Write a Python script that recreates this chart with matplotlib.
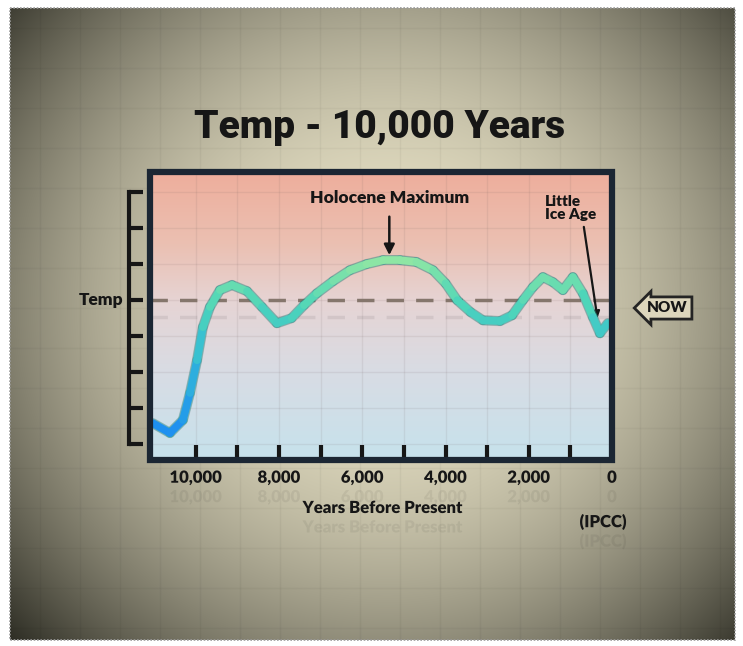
"""Temperature over the last 10,000 years, poster style."""
import numpy as np
import matplotlib
matplotlib.use("Agg")
import matplotlib.pyplot as plt
import matplotlib.patheffects as pe
from matplotlib.collections import LineCollection
from matplotlib.colors import LinearSegmentedColormap
from matplotlib.patches import Rectangle

W, H = 743, 646

# years before present vs. temperature relative to today (dashed line = 0)
years = [11030, 10620, 10310, 10140, 9970, 9830, 9660, 9420, 9130, 8770, 8410,
         8050, 7700, 7400, 7090, 6700, 6300, 5900, 5500, 5090, 4700, 4300,
         4000, 3720, 3400, 3100, 2690, 2400, 2140, 1900, 1660, 1420, 1180,
         940, 700, 460, 290, 100]
temps = [-3.42, -3.69, -3.33, -2.58, -1.67, -0.75, -0.19, 0.28, 0.42, 0.25, -0.19,
         -0.64, -0.50, -0.14, 0.19, 0.53, 0.83, 1.00, 1.11, 1.11, 1.06, 0.83,
         0.47, 0.00, -0.33, -0.56, -0.58, -0.42, 0.00, 0.36, 0.64, 0.50, 0.28,
         0.64, 0.19, -0.47, -0.92, -0.64]

year_ticks = [0, 2000, 4000, 6000, 8000, 10000]
year_labels = ["0", "2,000", "4,000", "6,000", "8,000", "10,000"]
minor_ticks = [1000, 3000, 5000, 7000, 9000]
temp_ticks = [-4, -3, -2, -1, 0, 1, 2, 3]

FONT = ["Lato", "DejaVu Sans"]
INK = "#161616"
bold = dict(fontweight="heavy", family=FONT, color=INK)
reflect = [pe.withSimplePatchShadow(offset=(0, -14), shadow_rgbFace="k", alpha=0.06)]

fig = plt.figure(figsize=(W / 100, H / 100), dpi=100, facecolor="white")

# --- paper background with vignette and faint grid ---
bg = fig.add_axes([0, 0, 1, 1], zorder=-5)
bg.set_xlim(0, W)
bg.set_ylim(H, 0)
bg.axis("off")
x0, x1, y0, y1 = 10, 735, 8, 640
gx, gy = np.meshgrid(np.linspace(0, 1, 400), np.linspace(0, 1, 350))
r = np.sqrt(((gx - 0.52) / 0.6) ** 2 + ((gy - 0.47) / 0.66) ** 2)
shade = np.clip(1 - 0.68 * r ** 2, 0.06, 1)[..., None]
light = np.array([232, 226, 198]) / 255
dark = np.array([36, 36, 28]) / 255
img = dark + (light - dark) * shade
bg.imshow(img, extent=(x0, x1, y1, y0), aspect="auto", interpolation="bilinear")
for gxp in np.arange(x0 + 30, x1, 40):
    bg.plot([gxp, gxp], [y0, y1], color="#000000", alpha=0.04, lw=1)
for gyp in np.arange(y0 + 20, y1, 40):
    bg.plot([x0, x1], [gyp, gyp], color="#000000", alpha=0.03, lw=1)
bg.add_patch(Rectangle((x0, y0), x1 - x0, y1 - y0, fill=False,
                       ec="#9a9a9a", lw=1.2, ls=(0, (1, 1))))

# --- title ---
fig.text(380 / W, 1 - 128 / H, "Temp - 10,000 Years", ha="center", va="center",
         fontsize=28, fontweight="black", family=["Roboto", "DejaVu Sans"], color=INK)

# --- main chart ---
ax = fig.add_axes([150 / W, 1 - 460 / H, 462 / W, 288 / H])

grad = LinearSegmentedColormap.from_list(
    "sky", [(0.0, "#c6e2ec"), (0.3, "#d8dce4"), (0.55, "#e6d4d4"),
            (0.75, "#ebc0b2"), (1.0, "#eeae9c")])
ax.imshow(np.linspace(0, 1, 256)[:, None], cmap=grad, origin="lower",
          extent=[0, 1, 0, 1], transform=ax.transAxes, aspect="auto", zorder=0)
ax.set_xlim(11100, 0)
ax.set_ylim(-4.44, 3.56)

ax.set_xticks(year_ticks)
ax.set_xticklabels(year_labels, fontsize=12, path_effects=reflect, **bold)
ax.set_xticks(minor_ticks, minor=True)
ax.set_yticks(temp_ticks)
ax.set_yticklabels([])
ax.grid(True, which="both", color="#6a5a5a", alpha=0.1, lw=1)

ax.tick_params(axis="x", which="both", direction="in", length=11, width=3,
               color=INK, pad=7)
ax.tick_params(axis="y", direction="in", length=10, width=3, color=INK)

for side in ("top", "right", "bottom"):
    ax.spines[side].set_visible(False)
ax.spines["left"].set_position(("outward", 15))
ax.spines["left"].set_bounds(-4, 3)
ax.spines["left"].set_linewidth(3)
ax.spines["left"].set_color(INK)

# level label next to the bracket
ax.text(-0.058, 0, "Temp", transform=ax.get_yaxis_transform(), ha="right",
        va="center", fontsize=12.5, **bold)

# frame around the plotting area
ax.add_patch(Rectangle((0, 0), 1, 1, transform=ax.transAxes, fill=False,
                       ec="#1b2633", lw=4.5, clip_on=False, zorder=6))

# reference (present-day) level
ax.axhline(0, color="#85766c", lw=2.5, ls=(0, (5, 3.5)), zorder=2,
           path_effects=[pe.SimpleLineShadow(offset=(0, -12), alpha=0.07), pe.Normal()])

# temperature curve, shaded from cold blue to warm green
pts = np.column_stack([years, temps])
segs = np.stack([pts[:-1], pts[1:]], axis=1)
mid = (np.array(temps[:-1]) + np.array(temps[1:])) / 2
curve_cmap = LinearSegmentedColormap.from_list(
    "curve", [(0.0, "#1e8ff0"), (0.45, "#33bcd6"), (0.75, "#4fd6b8"), (1.0, "#8ee6a4")])
ax.plot(years, temps, color="#000000", alpha=0.1, lw=7.5, zorder=3,
        solid_capstyle="round", solid_joinstyle="round")
lc = LineCollection(segs, cmap=curve_cmap, norm=plt.Normalize(-3.6, 1.1),
                    linewidths=5.5, capstyle="round", joinstyle="round", zorder=4)
lc.set_array(mid)
lc.set_path_effects([pe.Stroke(linewidth=7, foreground="#2f9a94", alpha=0.5), pe.Normal()])
ax.add_collection(lc)

# annotations
ax.annotate("Holocene Maximum", xy=(5350, 1.25), xytext=(5350, 2.85),
            ha="center", va="center", fontsize=12.5,
            arrowprops=dict(arrowstyle="-|>,head_width=0.25,head_length=0.5",
                            color=INK, lw=1.8, shrinkA=6, shrinkB=0), **bold)
ax.annotate("Little\nIce Age", xy=(350, -0.5), xytext=(1620, 2.55),
            ha="left", va="center", fontsize=11, linespacing=1.0,
            arrowprops=dict(arrowstyle="-|>,head_width=0.18,head_length=0.35",
                            color=INK, lw=1.6, shrinkA=2, shrinkB=0,
                            relpos=(0.75, 0.0)), **bold)

fig.text(667 / W, 1 - 308 / H, "NOW", ha="center", va="center", fontsize=11,
         bbox=dict(boxstyle="larrow,pad=0.3", fc="#ddd6bc", ec="#242424", lw=2), **bold)

fig.text(382 / W, 1 - 508 / H, "Years Before Present", ha="center", va="center",
         fontsize=12, path_effects=reflect, **bold)
fig.text(603 / W, 1 - 522 / H, "(IPCC)", ha="center", va="center",
         fontsize=12, path_effects=reflect, **bold)

fig.savefig("out.png", dpi=100, facecolor=fig.get_facecolor())
plt.close(fig)
